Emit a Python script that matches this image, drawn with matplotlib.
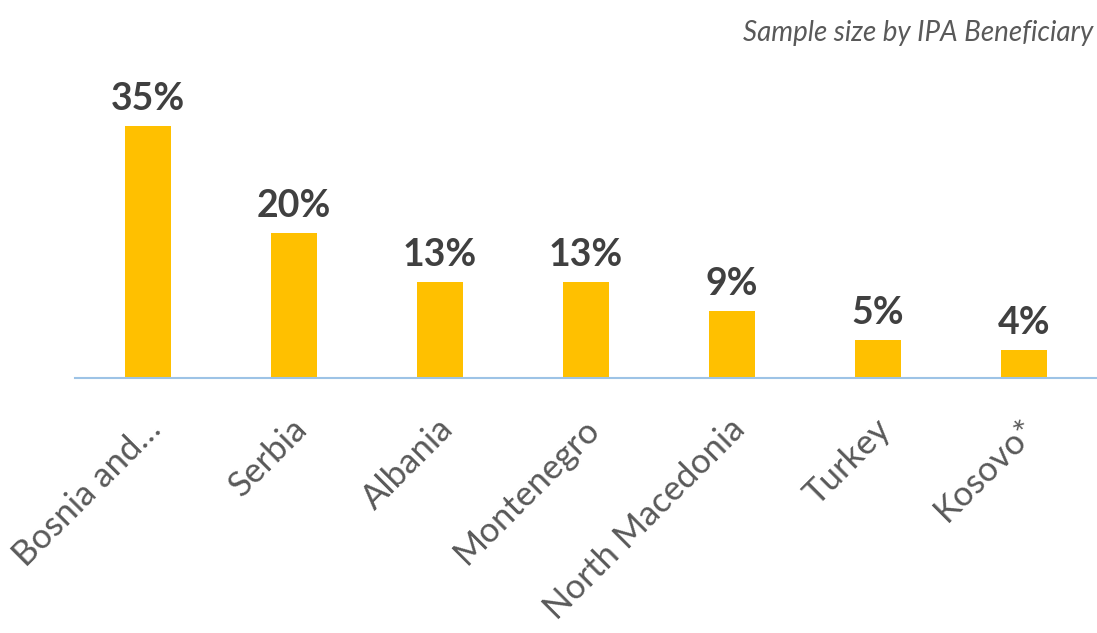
import numpy as np
import matplotlib.pyplot as plt
import matplotlib.transforms as mtransforms

# Sample share per IPA beneficiary (%)
countries = ["Bosnia and…", "Serbia", "Albania", "Montenegro",
             "North Macedonia", "Turkey", "Kosovo*"]
shares = [35.0, 20.1, 13.3, 13.3, 9.3, 5.3, 3.9]
labels = ["35%", "20%", "13%", "13%", "9%", "5%", "4%"]

plt.rcParams['font.family'] = ['Lato', 'DejaVu Sans']

fig = plt.figure(figsize=(10.97, 6.33), dpi=100)
ax = fig.add_axes([75 / 1097, 255 / 633, 1022 / 1097, 317 / 633])

x = np.arange(len(countries))
ax.bar(x, shares, width=0.315, color="#FFC000", zorder=2)

for xi, v, lab in zip(x, shares, labels):
    ax.annotate(lab, (xi, v), xytext=(0, 7), textcoords="offset points",
                ha="center", va="bottom", fontsize=27, fontweight="bold",
                color="#404040")

ax.set_xlim(-0.5, len(countries) - 0.5)
ax.set_ylim(0, 44)
ax.set_yticks([])
ax.set_xticks(x)
ax.set_xticklabels(countries, rotation=45, ha="right", va="center",
                   rotation_mode="anchor", fontsize=25, color="#595959")
ax.tick_params(axis="x", length=0, pad=33)
offset = mtransforms.ScaledTranslation(8 / 100, 0, fig.dpi_scale_trans)
for t in ax.get_xticklabels():
    t.set_transform(t.get_transform() + offset)

for side in ["top", "right", "left"]:
    ax.spines[side].set_visible(False)
ax.spines["bottom"].set_color("#9DC3E6")
ax.spines["bottom"].set_linewidth(1.5)

fig.text(1093 / 1097, 1 - 33 / 633, "Sample size by IPA Beneficiary",
         ha="right", va="center", fontsize=20, style="italic",
         color="#595959")

fig.savefig("out.png", dpi=100)
